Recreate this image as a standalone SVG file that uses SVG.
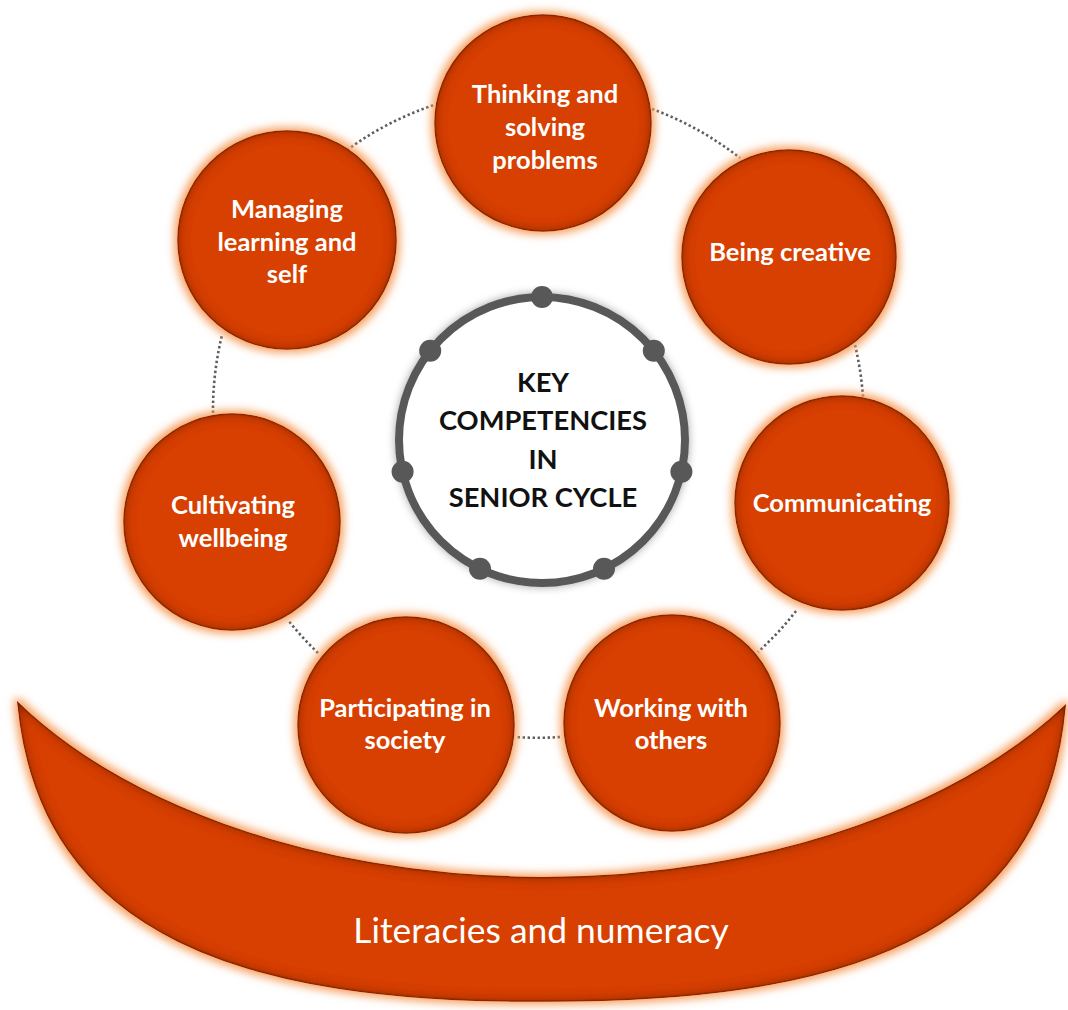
<svg xmlns="http://www.w3.org/2000/svg" width="1068" height="1010" viewBox="0 0 1068 1010">
<defs>
<style>
.orb{fill:#D74000;stroke:#A83200;stroke-width:1.5;filter:url(#fx)}
.lbl{font-family:Lato,"Open Sans","Liberation Sans",sans-serif;font-weight:700;font-size:25.5px;fill:#FFFFFF;text-anchor:middle}
.ctr{font-family:Lato,"Open Sans","Liberation Sans",sans-serif;font-weight:700;font-size:27.3px;fill:#111111;text-anchor:middle}
.dot{fill:#585858}
.conn{fill:none;stroke:#5E5E5E;stroke-width:2.6;stroke-dasharray:2.4 2.6}
</style>
<filter id="fx" x="-12%" y="-12%" width="124%" height="124%">
  <feMorphology in="SourceAlpha" operator="dilate" radius="3" result="dil"/>
  <feGaussianBlur in="dil" stdDeviation="4.5" result="gb"/>
  <feFlood flood-color="#F6A060"/>
  <feComposite in2="gb" operator="in" result="glow"/>
  <feGaussianBlur in="SourceAlpha" stdDeviation="6" result="ib"/>
  <feComposite in="SourceAlpha" in2="ib" operator="arithmetic" k2="1" k3="-1" result="rim"/>
  <feFlood flood-color="#6A1A00" flood-opacity="1"/>
  <feComposite in2="rim" operator="in" result="ish"/>
  <feMerge><feMergeNode in="glow"/><feMergeNode in="SourceGraphic"/><feMergeNode in="ish"/></feMerge>
</filter>
<filter id="sh" x="-10%" y="-10%" width="120%" height="120%">
  <feGaussianBlur in="SourceAlpha" stdDeviation="4" result="b"/>
  <feFlood flood-color="#000" flood-opacity="0.35"/>
  <feComposite in2="b" operator="in" result="s"/>
  <feMerge><feMergeNode in="s"/><feMergeNode in="SourceGraphic"/></feMerge>
</filter>
</defs>
<rect width="1068" height="1010" fill="#FFFFFF"/>

<g id="connectors">
  <path class="conn" d="M652,109 A320,320 0 0 1 740,158"/>
  <path class="conn" d="M855,345 A320,320 0 0 1 863,397"/>
  <path class="conn" d="M796,611 A320,320 0 0 1 758,652"/>
  <path class="conn" d="M560,737 A320,320 0 0 1 515,737"/>
  <path class="conn" d="M318,653 A320,320 0 0 1 288,620"/>
  <path class="conn" d="M213,413 A320,320 0 0 1 222,335"/>
  <path class="conn" d="M347,150 A320,320 0 0 1 434,105"/>
</g>

<g id="literacies">
  <path class="orb" d="M18,703 C40,940 250,1002 540,1001 C840,1002 1045,940 1065,706 A620,373 0 0 1 18,703 Z"/>
  <text x="541" y="943" style="font-family:Lato,'Open Sans','Liberation Sans',sans-serif;font-size:35.4px;fill:#FFFFFF;text-anchor:middle">Literacies and numeracy</text>
</g>

<g id="center">
  <circle cx="542" cy="440" r="143" fill="#FFFFFF" stroke="#595959" stroke-width="8" filter="url(#sh)"/>
  <circle class="dot" cx="542" cy="297" r="11"/>
  <circle class="dot" cx="653.8" cy="350.8" r="11"/>
  <circle class="dot" cx="681.4" cy="471.8" r="11"/>
  <circle class="dot" cx="604" cy="568.8" r="11"/>
  <circle class="dot" cx="480" cy="568.8" r="11"/>
  <circle class="dot" cx="402.6" cy="471.8" r="11"/>
  <circle class="dot" cx="430.2" cy="350.8" r="11"/>
  <text class="ctr" x="543" y="392">KEY</text>
  <text class="ctr" x="543" y="430">COMPETENCIES</text>
  <text class="ctr" x="543" y="469">IN</text>
  <text class="ctr" x="543" y="507">SENIOR CYCLE</text>
</g>

<g id="thinking">
  <circle class="orb" cx="543" cy="123" r="108"/>
  <text class="lbl" x="545" y="103">Thinking and</text>
  <text class="lbl" x="545" y="136">solving</text>
  <text class="lbl" x="545" y="169">problems</text>
</g>
<g id="creative">
  <circle class="orb" cx="789" cy="257" r="107"/>
  <text class="lbl" x="790" y="261">Being creative</text>
</g>
<g id="communicating">
  <circle class="orb" cx="842" cy="503" r="107"/>
  <text class="lbl" x="842" y="512">Communicating</text>
</g>
<g id="working">
  <circle class="orb" cx="672" cy="723" r="108"/>
  <text class="lbl" x="671" y="717">Working with</text>
  <text class="lbl" x="671" y="749">others</text>
</g>
<g id="participating">
  <circle class="orb" cx="406" cy="725" r="108"/>
  <text class="lbl" x="405" y="717">Participating in</text>
  <text class="lbl" x="405" y="749">society</text>
</g>
<g id="wellbeing">
  <circle class="orb" cx="232" cy="522" r="108"/>
  <text class="lbl" x="233" y="514">Cultivating</text>
  <text class="lbl" x="233" y="547">wellbeing</text>
</g>
<g id="managing">
  <circle class="orb" cx="287" cy="240" r="109"/>
  <text class="lbl" x="287" y="218">Managing</text>
  <text class="lbl" x="287" y="251">learning and</text>
  <text class="lbl" x="287" y="283">self</text>
</g>
</svg>
